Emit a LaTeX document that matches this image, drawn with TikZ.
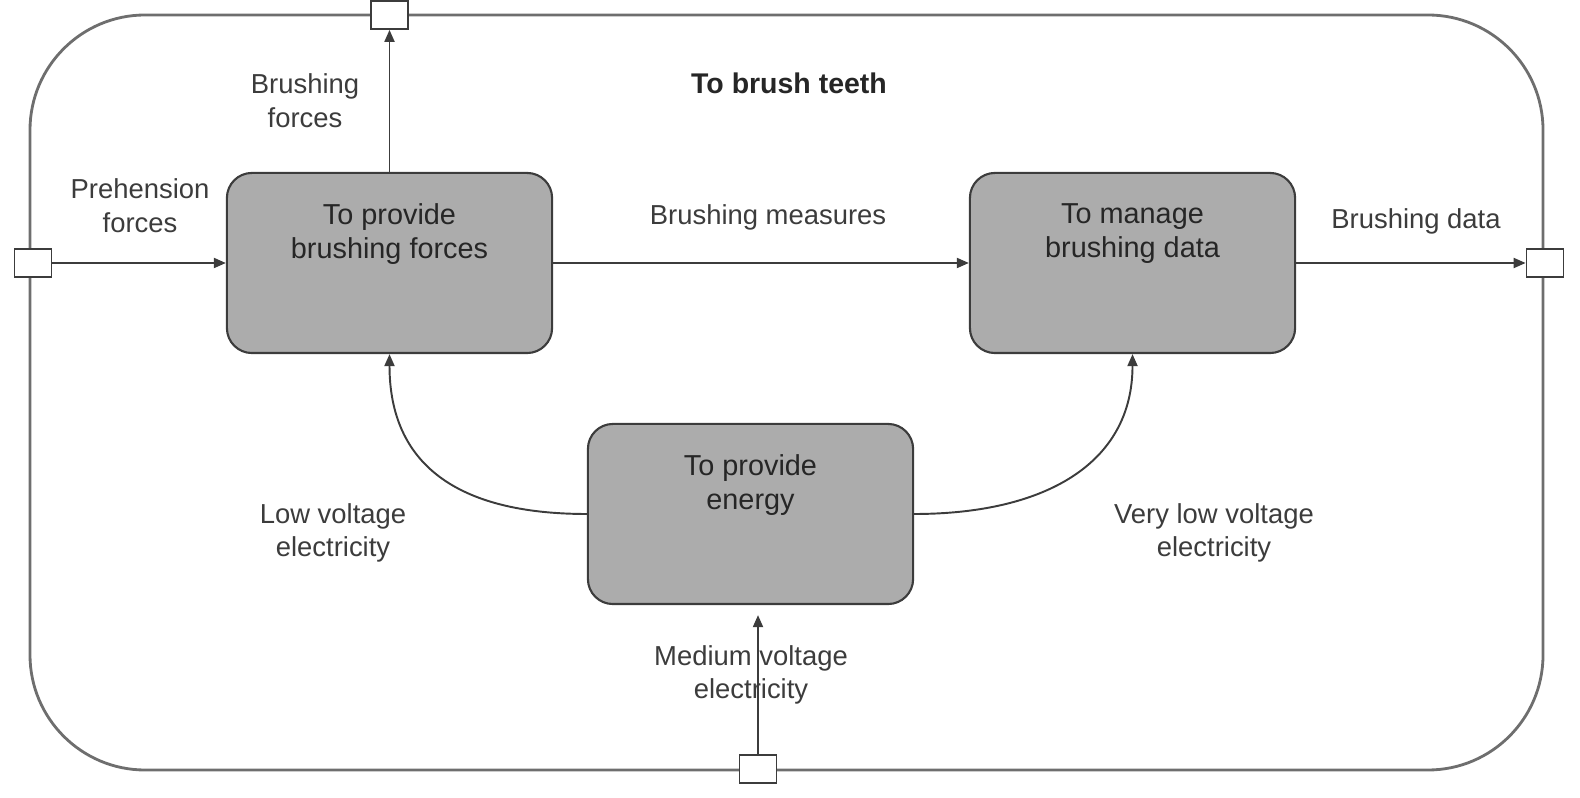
\documentclass[tikz,border=0pt]{standalone}
\usepackage{fontspec}
\setmainfont{Liberation Sans}
\usetikzlibrary{arrows.meta, positioning}
\definecolor{boxgray}{RGB}{172,172,172}
\definecolor{linegray}{RGB}{60,60,60}
\definecolor{framegray}{RGB}{110,110,110}
\definecolor{txtgray}{RGB}{60,60,60}

\begin{document}
\begin{tikzpicture}[
  x=0.01cm, y=-0.01cm,
  every node/.style={font=\fontsize{7.8}{9.6}\selectfont, text=txtgray},
  func/.style={rectangle, draw=linegray, rounded corners=2.5mm, fill=boxgray,
               minimum width=3.25cm, minimum height=1.8cm, line width=0.6pt},
  functxt/.style={anchor=north, align=center, yshift=-1.9mm,
                  font=\fontsize{8.2}{9.8}\selectfont, text=black!85},
  port/.style={rectangle, draw=linegray, fill=white, minimum width=3.7mm,
               minimum height=2.8mm, inner sep=0pt, line width=0.5pt},
  lbl/.style={align=center},
  arrow/.style={-{Triangle[length=1.2mm, width=1mm]}, draw=linegray, line width=0.55pt},
]
\useasboundingbox (0,0) rectangle (1580,798);
% system boundary
\draw[draw=framegray, line width=0.8pt, rounded corners=1.15cm] (30,15) rectangle (1543,770);
\node[font=\fontsize{8.1}{10}\selectfont\bfseries, text=black!85] (title) at (789,83) {To brush teeth};

% functions
\node[func, label={[functxt]north:{To provide\\brushing forces}}] (force)  at (389.5,263) {};
\node[func, label={[functxt]north:{To manage\\brushing data}}]    (data)   at (1132.5,263) {};
\node[func, label={[functxt]north:{To provide\\energy}}]          (energy) at (750.5,514) {};

% ports on the boundary
\node[port] (pin)  at (33,263)    {};
\node[port] (pout) at (1545,263)  {};
\node[port] (ptop) at (389.5,15)  {};
\node[port] (pbot) at (758,769)   {};

% flow labels
\node[lbl] (lprehension) at (140,206)  {Prehension\\forces};
\node[lbl] (lbrushforce) at (305,101)  {Brushing\\forces};
\node[lbl] (lmeasures)   at (768,217)  {Brushing measures};
\node[lbl] (ldata)       at (1416,221) {Brushing data};
\node[lbl] (llow)        at (333,533)  {Low voltage\\electricity};
\node[lbl] (lverylow)    at (1214,533) {Very low voltage\\electricity};
\node[lbl] (lmedium)     at (751,675)  {Medium voltage\\electricity};

% flows
\draw[arrow] (pin)   -- (force);
\draw[arrow] (force) -- (ptop);
\draw[arrow] (force) -- (data);
\draw[arrow] (data)  -- (pout);
\draw[arrow] (energy.west) .. controls +(-130,0) and +(0,110) .. (force.south);
\draw[arrow] (energy.east) .. controls +(130,0) and +(0,110) .. (data.south);
\draw[arrow, shorten >=1mm] (pbot.north) -- (pbot.north |- energy.south);
\end{tikzpicture}
\end{document}
